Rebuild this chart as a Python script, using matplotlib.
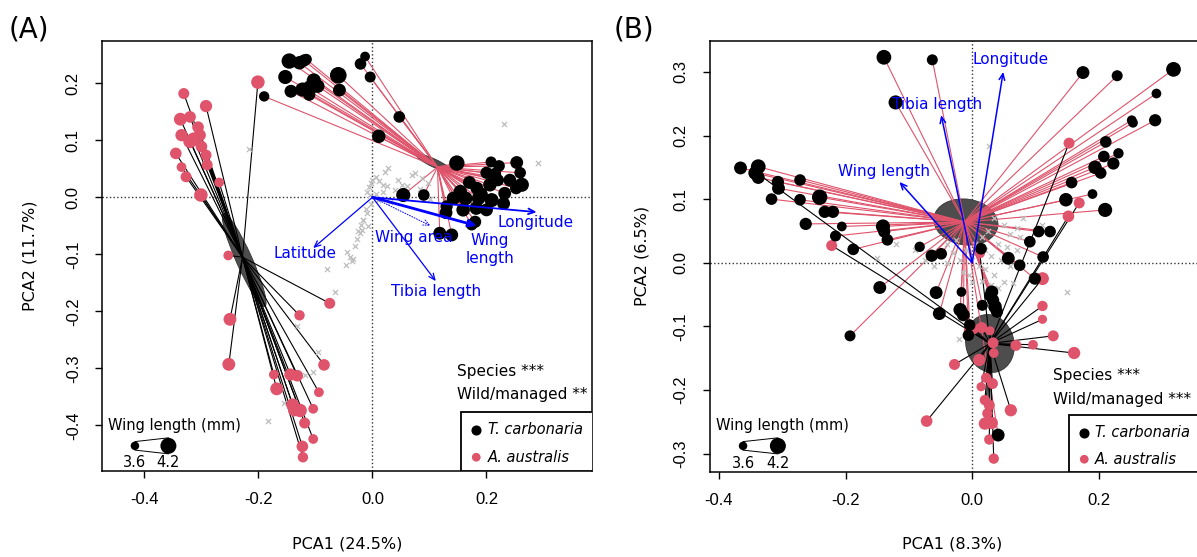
import numpy as np
import matplotlib.pyplot as plt
from matplotlib.patches import Ellipse, Rectangle

RED = '#DF536B'
GREY = '#BEBEBE'
ELLCOL = '#4D4D4D'
BLUE = '#0000FF'

# ---------------- panel A ----------------
a_blk_x = [-0.146, -0.128, -0.120, -0.116, -0.153, -0.143, -0.190, -0.123, -0.110, -0.103,
           -0.096, -0.111, -0.060, -0.058, -0.021, -0.013, -0.004, 0.047, 0.011,
           0.148, 0.208, 0.222, 0.253, 0.259, 0.200, 0.215, 0.170, 0.154, 0.183,
           0.206, 0.241, 0.262, 0.252, 0.232, 0.142, 0.163, 0.186, 0.209, 0.230,
           0.159, 0.130, 0.129, 0.182, 0.200, 0.180, 0.174, 0.118, 0.139, 0.090,
           0.054, 0.190, 0.220]
a_blk_y = [0.239, 0.236, 0.240, 0.242, 0.211, 0.186, 0.177, 0.189, 0.192, 0.205,
           0.195, 0.180, 0.214, 0.188, 0.234, 0.247, 0.211, 0.141, 0.107,
           0.060, 0.062, 0.055, 0.061, 0.043, 0.043, 0.041, 0.026, 0.010, 0.016,
           0.022, 0.030, 0.022, 0.016, 0.007, -0.002, -0.002, -0.002, -0.005, -0.011,
           -0.022, -0.016, -0.027, -0.019, -0.022, -0.043, -0.048, -0.063, -0.066, 0.004,
           0.004, 0.005, 0.030]
a_blk_wl = [4.15, 4.0, 3.9, 3.8, 4.05, 3.95, 3.75, 4.05, 4.1, 4.05,
            4.0, 3.9, 4.25, 3.95, 3.85, 3.7, 3.8, 3.85, 4.0,
            4.15, 3.8, 3.85, 3.95, 3.85, 3.9, 3.9, 3.95, 4.0, 3.95,
            4.0, 3.95, 4.05, 3.9, 3.95, 4.0, 4.05, 4.0, 4.05, 3.95,
            4.0, 3.9, 3.95, 4.0, 3.95, 3.9, 3.85, 3.95, 3.95, 3.85,
            4.05, 4.05, 3.9]

a_red_x = [-0.331, -0.292, -0.337, -0.320, -0.306, -0.335, -0.303, -0.320, -0.314, -0.300,
           -0.292, -0.345, -0.290, -0.335, -0.327, -0.269, -0.301, -0.201, -0.253,
           -0.075, -0.128, -0.250, -0.252, -0.085, -0.173, -0.144, -0.132, -0.168,
           -0.094, -0.140, -0.137, -0.127, -0.104, -0.119, -0.104, -0.123, -0.122]
a_red_y = [0.182, 0.160, 0.137, 0.141, 0.123, 0.109, 0.109, 0.098, 0.103, 0.089,
           0.074, 0.077, 0.057, 0.053, 0.036, 0.026, 0.004, 0.202, -0.102,
           -0.186, -0.207, -0.214, -0.293, -0.294, -0.311, -0.311, -0.313, -0.336,
           -0.342, -0.364, -0.373, -0.374, -0.371, -0.396, -0.424, -0.437, -0.456]
a_red_wl = [3.8, 3.9, 3.95, 3.85, 3.85, 3.9, 3.9, 4.0, 3.9, 3.85,
            3.8, 3.85, 3.8, 3.7, 3.8, 3.7, 4.0, 4.0, 3.7,
            3.8, 3.75, 3.95, 3.95, 3.85, 3.7, 3.9, 3.85, 3.95,
            3.7, 3.95, 3.95, 4.0, 3.7, 3.8, 3.7, 3.85, 3.75]

a_grey_x = [0.231, 0.291, 0.028, 0.022, 0.069, 0.075, 0.007, 0.000, 0.019, 0.025, -0.006,
            -0.010, -0.004, 0.006, 0.018, 0.098, 0.086, 0.051, 0.060, 0.084, 0.101, 0.040,
            -0.010, -0.016, -0.007, -0.022, -0.028, -0.018, -0.012, -0.003, -0.039, -0.034,
            -0.045, -0.046, -0.036, -0.080, -0.066, -0.133, -0.095, -0.104, -0.119, -0.156,
            -0.184, -0.217, -0.026, -0.016, -0.020, -0.030, 0.010, -0.002, 0.012, 0.031, 0.045]
a_grey_y = [0.129, 0.060, 0.051, 0.045, 0.039, 0.043, 0.036, 0.030, 0.022, 0.019, 0.018,
            0.010, 0.004, 0.006, 0.009, 0.025, 0.033, 0.022, 0.020, 0.015, -0.003, 0.012,
            -0.028, -0.039, -0.051, -0.063, -0.074, -0.058, -0.020, -0.012, -0.104, -0.108,
            -0.096, -0.119, -0.112, -0.126, -0.167, -0.225, -0.272, -0.307, -0.312, -0.361,
            -0.392, 0.084, -0.059, -0.040, -0.048, -0.085, -0.005, 0.025, 0.028, -0.008, 0.030]

# group centres and ellipses (centre x, centre y, width, height, angle)
a_cent_blk = (0.114, 0.053)
a_cent_red = (-0.228, -0.105)
a_ell_blk = (0.108, 0.060, 0.068, 0.014, -25)
a_ell_red = (-0.225, -0.110, 0.178, 0.028, -66)

a_arr_names = ['Latitude', 'Longitude', 'Wing area', 'Wing\nlength', 'Tibia length']
a_arr_x = [-0.104, 0.288, 0.102, 0.183, 0.111]
a_arr_y = [-0.089, -0.026, -0.050, -0.050, -0.147]
a_lab_x = [-0.118, 0.286, 0.073, 0.206, 0.112]
a_lab_y = [-0.098, -0.045, -0.071, -0.091, -0.1655]
a_arr_lw = [0.9, 1.3, 0.7, 2.0, 0.9]
a_arr_ls = ['-', '-', ':', '-', '-']

# ---------------- panel B ----------------
b_blk_x = [-0.1395, -0.063, -0.121, -0.366, -0.338, -0.343, -0.338, -0.307, -0.306, -0.272,
           -0.317, -0.272, -0.241, -0.233, -0.220, -0.263, -0.206, -0.216, -0.188, -0.141,
           -0.139, -0.134, -0.083, -0.064, -0.049, 0.175, 0.229, 0.318, 0.291, 0.252,
           0.254, 0.289, 0.211, 0.231, 0.208, 0.223, 0.194, 0.203, 0.157, 0.190,
           0.148, 0.210, 0.105, 0.123, 0.091, 0.112, 0.057, -0.146, -0.193, -0.057,
           -0.052, -0.017, -0.019, -0.014, -0.004, -0.006, 0.031, 0.033, 0.016, 0.036,
           0.039, 0.028, 0.041, 0.099, 0.075, 0.014]
b_blk_y = [0.323, 0.319, 0.252, 0.149, 0.151, 0.141, 0.134, 0.127, 0.117, 0.130,
           0.100, 0.099, 0.103, 0.080, 0.080, 0.061, 0.057, 0.042, 0.021, 0.057,
           0.049, 0.036, 0.025, 0.011, 0.014, 0.299, 0.294, 0.304, 0.266, 0.224,
           0.220, 0.224, 0.190, 0.172, 0.167, 0.156, 0.150, 0.141, 0.126, 0.108,
           0.099, 0.083, 0.049, 0.049, 0.033, 0.009, 0.007, -0.039, -0.115, -0.047,
           -0.080, -0.046, -0.074, -0.082, -0.098, -0.114, -0.046, -0.059, -0.067, -0.069,
           -0.077, -0.052, -0.271, -0.025, -0.004, 0.022]
b_blk_wl = [4.1, 3.8, 4.05, 3.95, 4.1, 4.0, 3.95, 3.9, 3.95, 3.85,
            3.85, 3.85, 4.15, 3.9, 3.9, 3.9, 3.7, 3.8, 3.85, 4.05,
            3.9, 3.85, 3.75, 3.9, 3.85, 3.95, 3.8, 4.1, 3.7, 3.7,
            3.7, 3.9, 3.85, 3.75, 3.85, 3.9, 4.0, 3.85, 3.85, 3.7,
            4.0, 4.05, 3.85, 3.85, 3.85, 3.85, 3.95, 3.95, 3.8, 3.95,
            3.95, 3.7, 4.0, 3.95, 3.85, 3.85, 3.95, 3.9, 3.8, 4.0,
            3.9, 3.85, 3.95, 3.9, 3.85, 3.85]

b_red_x = [-0.340, -0.222, 0.153, 0.169, 0.152, 0.012, -0.028, -0.072, -0.004, 0.002,
           0.015, 0.028, 0.033, 0.034, 0.011, 0.069, 0.096, 0.128, 0.161, 0.111,
           0.111, 0.111, 0.022, 0.032, 0.014, 0.020, 0.027, 0.024, 0.020, 0.031,
           0.027, 0.034, 0.061]
b_red_y = [0.141, 0.027, 0.188, 0.094, 0.073, 0.015, -0.160, -0.249, -0.106, -0.104,
           -0.102, -0.107, -0.126, -0.142, -0.153, -0.130, -0.129, -0.115, -0.142, -0.068,
           -0.089, -0.025, -0.181, -0.190, -0.195, -0.216, -0.224, -0.237, -0.253, -0.252,
           -0.278, -0.308, -0.232]
b_red_wl = [3.75, 3.8, 3.8, 3.8, 3.85, 3.75, 3.8, 3.85, 3.85, 3.8,
            3.8, 3.65, 3.8, 3.7, 3.9, 3.8, 3.7, 3.8, 3.9, 3.75,
            3.65, 3.95, 3.75, 3.8, 3.65, 3.75, 3.8, 3.75, 3.9, 3.9,
            3.75, 3.75, 3.9]

b_grey_x = [0.027, 0.149, -0.021, 0.035, 0.050, 0.060, 0.075, 0.090, 0.040, 0.055, 0.070,
            0.030, 0.045, 0.060, 0.020, 0.035, 0.050, 0.065, 0.040, 0.010, 0.000, -0.010,
            -0.020, -0.030, -0.040, -0.050, -0.060, -0.075, -0.090, -0.150, -0.120, 0.015,
            0.025, -0.005, 0.000, -0.015, 0.100, 0.110, 0.080, 0.005, -0.025, 0.020, 0.030,
            0.015, 0.070, -0.040]
b_grey_y = [0.184, -0.046, -0.120, 0.070, 0.060, 0.045, 0.040, 0.035, 0.030, 0.025, 0.020,
            0.010, 0.005, -0.005, -0.010, -0.020, -0.030, -0.032, -0.040, -0.005, 0.010, 0.020,
            0.005, 0.015, 0.000, 0.010, -0.005, 0.005, 0.020, 0.008, 0.030, 0.040,
            0.050, -0.020, -0.030, -0.015, 0.050, 0.060, 0.070, 0.030, 0.035, 0.020, -0.035,
            -0.028, 0.055, 0.030]

b_cent_blk = (-0.012, 0.064)
b_cent_red = (0.028, -0.127)
b_ell_blk = (-0.010, 0.064, 0.102, 0.072, -8)
b_ell_red = (0.028, -0.127, 0.076, 0.092, 15)

b_arr_names = ['Longitude', 'Tibia length', 'Wing length']
b_arr_x = [0.049, -0.049, -0.115]
b_arr_y = [0.300, 0.232, 0.127]
b_lab_x = [0.060, -0.0555, -0.140]
b_lab_y = [0.320, 0.248, 0.144]

legend_wl = [3.6, 4.2]

FW, FH = 1197, 557
fig = plt.figure(figsize=(FW / 100, FH / 100), dpi=100)
axA = fig.add_axes([101.7 / FW, (FH - 470.7) / FH, 490.6 / FW, 430 / FH])
axB = fig.add_axes([709.5 / FW, (FH - 471.7) / FH, 492.5 / FW, 430.7 / FH])


def diam_px(wl):
    # wing length -> point diameter in pixels (3.6 mm ~ 8.5 px, 4.2 mm ~ 16 px)
    return 8.5 + (np.asarray(wl) - 3.6) / 0.6 * 7.5


def area(wl):
    return (diam_px(wl) * 0.72) ** 2


def draw_panel(ax, xlim, ylim, bx, by, bw, rx, ry, rw, gx, gy,
               cb, cr, eb, er, names, ax_, ay_, lx, ly, lws, lss,
               xticks, yticks):
    ax.set_xlim(xlim)
    ax.set_ylim(ylim)
    ax.axhline(0, color='#333333', ls=':', lw=1, zorder=1)
    ax.axvline(0, color='#333333', ls=':', lw=1, zorder=1)
    for e in (eb, er):
        ax.add_patch(Ellipse((e[0], e[1]), e[2], e[3], angle=e[4],
                             facecolor=ELLCOL, edgecolor='#333333', lw=0.6, zorder=2))
    # spiders: black points -> red lines, red points -> black lines
    for x, y in zip(bx, by):
        ax.plot([cb[0], x], [cb[1], y], color=RED, lw=0.8, zorder=3)
    for x, y in zip(rx, ry):
        ax.plot([cr[0], x], [cr[1], y], color='black', lw=0.8, zorder=3)
    ax.scatter(gx, gy, marker='x', s=14, color=GREY, linewidths=0.9, zorder=4)
    ax.scatter(rx, ry, s=area(rw), color=RED, edgecolors='none', zorder=5)
    ax.scatter(bx, by, s=area(bw), color='black', edgecolors='none', zorder=5)
    for n, x, y, tx, ty, lw, ls in zip(names, ax_, ay_, lx, ly, lws, lss):
        ax.annotate('', xy=(x, y), xytext=(0, 0), zorder=6,
                    arrowprops=dict(arrowstyle='->,head_length=0.45,head_width=0.2',
                                    color=BLUE, lw=lw, ls=ls, shrinkA=0, shrinkB=0,
                                    mutation_scale=10))
        ax.text(tx, ty, n, color=BLUE, fontsize=11, ha='center', va='center',
                linespacing=1.25, zorder=7)
    ax.set_xticks(xticks)
    ax.set_xticklabels(['%.1f' % v for v in xticks])
    ax.set_yticks(yticks)
    ax.set_yticklabels(['%.1f' % v for v in yticks], rotation=90, va='center')
    ax.tick_params(direction='out', length=5, width=1, pad=10, labelsize=12)
    for lab in ax.get_xticklabels() + ax.get_yticklabels():
        lab.set_fontfamily('Liberation Sans')
    for s in ax.spines.values():
        s.set_linewidth(1.1)


def size_legend(ax, x0, y0, xs, xl, yd, ylab, ppu):
    ax.text(x0, y0, 'Wing length (mm)', fontsize=10.5, ha='left', va='center')
    r = diam_px(legend_wl) / 2 / ppu
    ax.scatter([xs, xl], [yd, yd], s=area(legend_wl), color='black', edgecolors='none', zorder=8)
    ax.plot([xs, xl], [yd + r[0], yd + r[1]], color='black', lw=0.7, zorder=8)
    ax.plot([xs, xl], [yd - r[0], yd - r[1]], color='black', lw=0.7, zorder=8)
    for x, v in zip([xs, xl], legend_wl):
        ax.text(x, ylab, '%.1f' % v, fontsize=10.5, ha='center', va='center')


def species_legend(ax, x0, ytop, xmax, ymin, xdot, xtxt, y1, y2, tx, ty1, ty2, sig2):
    ax.text(tx, ty1, 'Species ***', fontsize=11, ha='left', va='center')
    ax.text(tx, ty2, 'Wild/managed ' + sig2, fontsize=11, ha='left', va='center')
    ax.add_patch(Rectangle((x0, ymin), xmax - x0 + 0.05, ytop - ymin, facecolor='white',
                           edgecolor='black', lw=1.3, zorder=9, clip_on=True))
    ax.scatter([xdot], [y1], s=(8.7 * 0.72) ** 2, color='black', zorder=10)
    ax.scatter([xdot], [y2], s=(8.7 * 0.72) ** 2, color=RED, edgecolors='none', zorder=10)
    ax.text(xtxt, y1, 'T. carbonaria', style='italic', fontsize=10.5, va='center', zorder=10)
    ax.text(xtxt, y2, 'A. australis', style='italic', fontsize=10.5, va='center', zorder=10)


a_xlim = (-0.475, 0.3856)
a_ylim = (-0.4796, 0.2747)
draw_panel(axA, a_xlim, a_ylim, a_blk_x, a_blk_y, a_blk_wl, a_red_x, a_red_y, a_red_wl,
           a_grey_x, a_grey_y, a_cent_blk, a_cent_red, a_ell_blk, a_ell_red,
           a_arr_names, a_arr_x, a_arr_y, a_lab_x, a_lab_y, a_arr_lw, a_arr_ls,
           [-0.4, -0.2, 0.0, 0.2], [-0.4, -0.3, -0.2, -0.1, 0.0, 0.1, 0.2])
size_legend(axA, -0.4635, -0.3995, -0.4167, -0.358, -0.436, -0.4656, 570)
species_legend(axA, 0.156, -0.376, a_xlim[1], a_ylim[0], 0.182, 0.202, -0.408, -0.456,
               0.148, -0.306, -0.346, '**')

b_xlim = (-0.415, 0.363)
b_ylim = (-0.3286, 0.3486)
draw_panel(axB, b_xlim, b_ylim, b_blk_x, b_blk_y, b_blk_wl, b_red_x, b_red_y, b_red_wl,
           b_grey_x, b_grey_y, b_cent_blk, b_cent_red, b_ell_blk, b_ell_red,
           b_arr_names, b_arr_x, b_arr_y, b_lab_x, b_lab_y, [1.1, 1.1, 1.1], ['-', '-', '-'],
           [-0.4, -0.2, 0.0, 0.2], [-0.3, -0.2, -0.1, 0.0, 0.1, 0.2, 0.3])
size_legend(axB, -0.405, -0.256, -0.362, -0.307, -0.288, -0.315, 633)
species_legend(axB, 0.153, -0.240, b_xlim[1], b_ylim[0], 0.177, 0.194, -0.267, -0.309,
               0.128, -0.178, -0.215, '***')

axA.set_xlabel('PCA1 (24.5%)', fontsize=11.5, va='center')
axA.xaxis.set_label_coords(0.5, -0.1705)
axA.set_ylabel('PCA2 (11.7%)', fontsize=11.5, va='center')
axA.yaxis.set_label_coords(-0.147, 0.5)
axB.set_xlabel('PCA1 (8.3%)', fontsize=11.5, va='center')
axB.xaxis.set_label_coords(0.492, -0.168)
axB.set_ylabel('PCA2 (6.5%)', fontsize=11.5, va='center')
axB.yaxis.set_label_coords(-0.1375, 0.5)

fig.text(8.4 / FW, 1 - 29.7 / FH, '(A)', fontsize=20, ha='left', va='center')
fig.text(613.3 / FW, 1 - 29.7 / FH, '(B)', fontsize=20, ha='left', va='center')

fig.savefig('out.png', dpi=100)
